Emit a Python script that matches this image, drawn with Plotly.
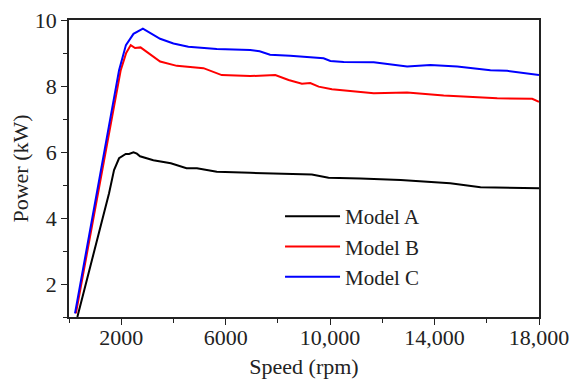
import plotly.graph_objects as go

# ---- data ----
speed_A = [320, 1022, 1534, 1725, 1917, 2173, 2300, 2470, 2600, 2720, 3230, 3900, 4500,
           4900, 5660, 6940, 9300, 9940, 11160, 12700, 14600, 15760, 18000]
power_A = [1.0, 3.13, 4.75, 5.45, 5.81, 5.94, 5.94, 5.99, 5.95, 5.87, 5.75, 5.66, 5.51,
           5.51, 5.40, 5.37, 5.32, 5.22, 5.20, 5.15, 5.05, 4.93, 4.90]

speed_B = [265, 1342, 1725, 1981, 2190, 2365, 2530, 2740, 3490, 4130, 5150, 5850, 6940,
           7900, 8410, 8920, 9240, 9560, 10070, 11670, 12950, 14350, 16400, 17740, 18000]
power_B = [1.11, 5.76, 7.47, 8.48, 9.0, 9.24, 9.15, 9.17, 8.74, 8.61, 8.54, 8.33, 8.30,
           8.33, 8.18, 8.07, 8.09, 7.98, 7.90, 7.78, 7.80, 7.71, 7.63, 7.61, 7.52]

speed_C = [230, 1278, 1661, 1917, 2180, 2470, 2830, 3490, 4000, 4570, 5660, 6940, 7300,
           7700, 8470, 9750, 10010, 10520, 11670, 12950, 13840, 14870, 16140, 16780, 18000]
power_C = [1.11, 5.76, 7.47, 8.48, 9.24, 9.58, 9.74, 9.43, 9.29, 9.19, 9.12, 9.09, 9.05,
           8.95, 8.92, 8.84, 8.76, 8.73, 8.72, 8.59, 8.64, 8.59, 8.48, 8.46, 8.33]

series = [("Model A", speed_A, power_A, "#000000"),
          ("Model B", speed_B, power_B, "#ff0000"),
          ("Model C", speed_C, power_C, "#0000ff")]

x_major = [2000, 6000, 10000, 14000, 18000]
x_major_text = ["2000", "6000", "10,000", "14,000", "18,000"]
x_minor = [0, 4000, 8000, 12000, 16000]
y_major = [2, 4, 6, 8, 10]
y_major_text = ["2", "4", "6", "8", "10"]
y_minor = [1, 3, 5, 7, 9]

FONT = "Liberation Serif, Times New Roman, serif"
FS = 22

fig = go.Figure()
for name, xs, ys, col in series:
    fig.add_trace(go.Scatter(x=xs, y=ys, mode="lines", name=name,
                             line=dict(color=col, width=2)))

axis_common = dict(showline=True, linecolor="#222", linewidth=1.5, mirror=True,
                   showgrid=False, zeroline=False, ticks="outside", ticklen=6,
                   tickwidth=1.3, tickcolor="#222", automargin=False,
                   ticklabeloverflow="allow",
                   tickfont=dict(family=FONT, size=FS, color="#222"))

fig.update_xaxes(range=[0, 18000], tickmode="array", tickvals=x_major,
                 ticktext=x_major_text, ticklabelstandoff=-6,
                 minor=dict(tickmode="array", tickvals=x_minor, ticks="outside",
                            ticklen=4, tickwidth=1.3, tickcolor="#222"),
                 title=dict(text="Speed (rpm)", font=dict(family=FONT, size=FS, color="#222"),
                            standoff=15),
                 **axis_common)
fig.update_yaxes(range=[1, 10], tickmode="array", tickvals=y_major,
                 ticktext=y_major_text,
                 minor=dict(tickmode="array", tickvals=y_minor, ticks="outside",
                            ticklen=4, tickwidth=1.3, tickcolor="#222"),
                 title=dict(text="Power (kW)", font=dict(family=FONT, size=FS, color="#222"),
                            standoff=0),
                 **axis_common)

fig.update_layout(
    width=569, height=379,
    margin=dict(l=69, r=30, t=20, b=62),
    paper_bgcolor="white", plot_bgcolor="white",
    showlegend=True,
    legend=dict(x=0.449, y=0.407, xanchor="left", yanchor="top",
                bgcolor="rgba(0,0,0,0)", borderwidth=0,
                font=dict(family=FONT, size=21, color="#222"),
                itemwidth=55, tracegroupgap=0),
)

fig.write_html("out.html")
